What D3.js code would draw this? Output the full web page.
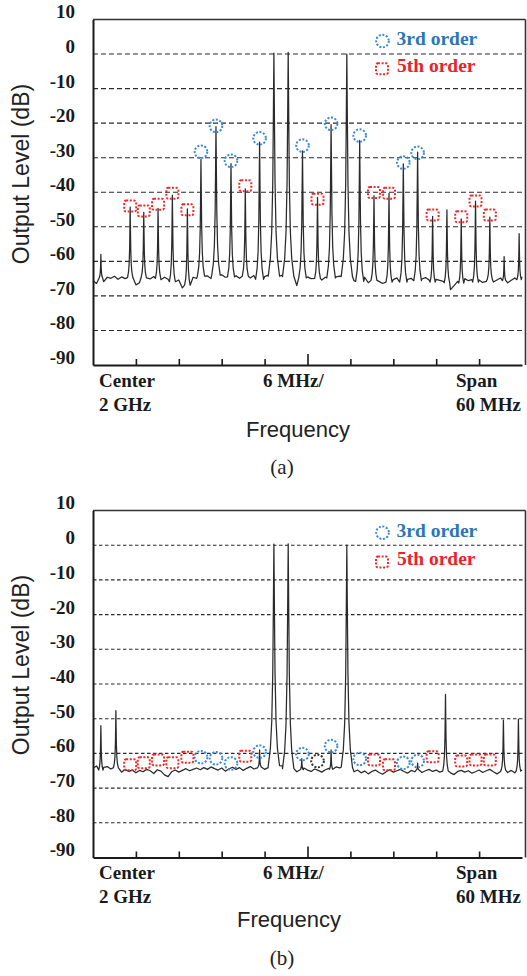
<!DOCTYPE html>
<html><head><meta charset="utf-8">
<script src="https://cdn.jsdelivr.net/npm/d3@7"></script>
<style>body{margin:0;background:#fff}svg{display:block}</style>
</head><body>
<svg id="c" width="527" height="976"></svg>
<script>
// ---------- data ----------
const yTickValues = [10, 0, -10, -20, -30, -40, -50, -60, -70, -80, -90];
const gridValues = [0, -10, -20, -30, -40, -50, -60, -70, -80];
const xTickValues = [-24, -18, -12, -6, 0, 6, 12, 18, 24]; // MHz offset from 2 GHz (6 MHz/div)
const xDomain = [-30, 30];
const traceStartMHz = -30, traceStepMHz = 0.5;
const xLabelLeft = ["Center", "2 GHz"];
const xLabelMid = ["6 MHz/"];
const xLabelRight = ["Span", "60 MHz"];
const legendLabels = ["3rd order", "5th order"];

// (a) measured noise floor (dB), every 0.5 MHz from -30 to +30 MHz
const noiseA = [
  -65.6,-66.4,-64.8,-65.9,-64.6,-64.9,-64.3,-65.2,-64.5,-65.0,
  -64.7,-65.4,-66.8,-66.2,-64.6,-64.8,-65.1,-64.4,-64.9,-65.3,
  -64.6,-65.2,-65.9,-64.8,-65.4,-67.7,-66.9,-65.0,-64.6,-64.9,
  -64.3,-64.8,-64.2,-65.0,-64.0,-64.4,-63.9,-64.6,-64.1,-64.5,
  -64.2,-64.9,-64.0,-64.3,-64.8,-64.1,-64.6,-65.2,-64.4,-64.0,
  -63.8,-64.3,-64.6,-64.0,-63.9,-64.4,-65.3,-67.0,-66.2,-64.8,
  -64.5,-65.0,-64.2,-64.9,-65.4,-64.6,-64.2,-64.8,-64.5,-64.3,
  -64.0,-64.4,-65.2,-65.6,-64.9,-65.8,-64.6,-66.2,-65.1,-65.5,
  -65.8,-66.4,-65.0,-66.0,-65.3,-64.8,-65.5,-66.0,-65.2,-64.9,
  -65.0,-65.6,-65.1,-64.7,-65.4,-66.0,-65.2,-65.5,-65.8,-66.2,
  -68.2,-67.0,-65.8,-66.3,-65.0,-65.6,-65.3,-66.0,-65.4,-66.1,
  -65.8,-65.2,-66.0,-65.4,-64.8,-65.6,-66.2,-65.5,-64.8,-65.3,
  -64.5
];
// (a) spectral lines
const peakFreqA  = [-28.9,-24.8,-22.9,-20.9,-18.9,-16.8,-14.9,-12.8,-10.7,-8.7,-6.7,-4.7,-2.7,-0.7,1.4,3.3,5.5,7.3,9.3,11.4,13.4,15.4,17.5,19.5,21.5,23.5,25.5,27.5,29.6];
const peakLevelA = [-58,-44.3,-45.8,-44.7,-40.8,-44.8,-30.5,-21,-31.7,-39,-25.5,0.3,0.5,-28,-41.5,-20.4,0,-25,-41,-40.3,-31.8,-28.4,-47,-45.1,-47.7,-42.6,-47.2,-58.6,-52];
// (a) intermodulation markers
const markFreqA  = [-24.8,-22.9,-20.9,-18.9,-16.8,-14.9,-12.8,-10.7,-8.7,-6.7,-0.7,1.4,3.3,7.3,9.3,11.4,13.4,15.4,17.5,21.5,23.5,25.5];
const markLevelA = [-44.0,-45.4,-43.5,-40.3,-45.1,-28.3,-20.8,-30.9,-38.1,-24.4,-26.5,-42.0,-20.2,-23.6,-40.1,-40.3,-31.4,-28.6,-46.6,-47.1,-42.5,-46.6];
const markOrderA = [5,5,5,5,5,3,3,3,5,3,3,5,3,3,5,5,3,3,5,5,5,5];

// (b) measured noise floor (dB), every 0.5 MHz from -30 to +30 MHz
const noiseB = [
  -64.3,-63.6,-64.8,-64.0,-63.8,-64.5,-64.1,-64.9,-65.4,-64.6,
  -65.2,-64.8,-65.6,-64.9,-65.3,-64.6,-65.0,-65.8,-64.7,-65.1,
  -66.2,-66.7,-65.3,-64.8,-65.4,-64.9,-64.4,-65.0,-64.6,-64.2,
  -64.7,-64.1,-64.6,-63.9,-64.4,-64.8,-64.2,-65.1,-64.5,-64.0,
  -64.6,-64.1,-64.9,-64.3,-63.8,-64.5,-64.2,-63.9,-64.6,-64.1,
  -63.7,-63.5,-63.9,-63.6,-63.8,-64.4,-64.9,-65.3,-64.7,-64.2,
  -64.8,-65.2,-64.5,-64.9,-65.4,-64.7,-64.3,-64.6,-63.9,-64.2,
  -63.8,-64.0,-64.6,-65.3,-64.8,-65.6,-65.1,-65.9,-65.2,-64.8,
  -65.5,-66.0,-65.3,-64.7,-65.4,-65.0,-64.6,-65.2,-65.7,-64.9,
  -65.3,-64.8,-65.5,-65.0,-64.6,-65.2,-64.8,-65.4,-65.8,-65.1,
  -65.6,-66.1,-65.2,-64.9,-65.4,-65.0,-65.7,-65.3,-64.8,-65.5,
  -65.0,-64.6,-65.3,-65.9,-65.2,-64.8,-65.5,-64.9,-65.6,-65.1,
  -64.8
];
// (b) spectral lines
const peakFreqB  = [-28.9,-26.8,-6.7,-4.7,-2.7,-0.8,3.3,5.5,15.4,19.3,27.4,29.5];
const peakLevelB = [-52,-47.7,-59,0.3,0.4,-61.5,-59,0,-62.8,-43,-50.4,-50.1];
// (b) intermodulation markers
const markFreqB  = [-24.8,-22.9,-20.9,-18.9,-16.8,-14.9,-12.8,-10.7,-8.7,-6.7,-0.7,1.4,3.3,7.3,9.3,11.4,13.4,15.4,17.5,21.5,23.5,25.5];
const markLevelB = [-63.3,-62.7,-61.9,-62.7,-61.1,-61.1,-61.4,-62.9,-60.8,-59.5,-60.2,-62.2,-57.9,-61.6,-61.9,-63.3,-62.7,-62.2,-61.0,-62.2,-61.9,-61.9];
const markOrderB = [5,5,5,5,5,3,3,3,5,3,3,0,3,3,5,5,3,3,5,5,5,5];

// ---------- drawing ----------
const svg = d3.select("#c");
const SERIF = "'Liberation Serif','Times New Roman',serif";
const SANS = "'Liberation Sans',Arial,sans-serif";
const BLUE_M = "#3a8ad6", BLUE_T = "#2e75b6", RED_M = "#ee2b2b", RED_T = "#e8242b";

function buildTrace(noise, pf, pl) {
  const pts = noise.map((v, i) => ({ f: traceStartMHz + i * traceStepMHz, v }));
  const bases = pf.map((f, i) => {
    const idx = Math.max(0, Math.min(noise.length - 1, Math.round((f - traceStartMHz) / traceStepMHz)));
    const fb = noise[idx];
    const H = pl[i] - fb;
    return { f, L: pl[i], fb, H, wb: 0.18 + 0.0095 * H };
  });
  const kept = pts.filter(p => !bases.some(b => Math.abs(p.f - b.f) < b.wb));
  const shape = [[-1,0],[-0.62,0.08],[-0.38,0.2],[-0.2,0.42],[-0.09,0.72],[0,1],[0.09,0.72],[0.2,0.42],[0.38,0.2],[0.62,0.08],[1,0]];
  bases.forEach(b => shape.forEach(([a, h]) => kept.push({ f: b.f + a * b.wb, v: b.fb + h * b.H })));
  kept.sort((a, b) => a.f - b.f);
  return kept;
}

function panel(cfg) {
  const g = svg.append("g");
  const x = d3.scaleLinear().domain(xDomain).range([cfg.left, cfg.right]);
  const y = d3.scaleLinear().domain([-90, 10]).range([cfg.bottom, cfg.top]);

  // gridlines
  g.append("g").selectAll("line").data(gridValues).join("line")
    .attr("x1", cfg.left).attr("x2", cfg.boxRight)
    .attr("y1", d => y(d)).attr("y2", d => y(d))
    .attr("stroke", "#2b2b2b").attr("stroke-width", 1.1)
    .attr("stroke-dasharray", cfg.dash);

  // box top & right
  g.append("line").attr("x1", cfg.left).attr("x2", cfg.boxRight)
    .attr("y1", y(10)).attr("y2", y(10)).attr("stroke", "#333").attr("stroke-width", 1.6);
  g.append("line").attr("x1", cfg.boxRight).attr("x2", cfg.boxRight)
    .attr("y1", y(10)).attr("y2", y(-90)).attr("stroke", "#333").attr("stroke-width", 1.6);

  // trace
  const trace = buildTrace(cfg.noise, cfg.pf, cfg.pl);
  g.append("path").datum(trace)
    .attr("d", d3.line().x(d => x(d.f)).y(d => y(d.v)))
    .attr("fill", "none").attr("stroke", "#2a2a2a").attr("stroke-width", 1.25)
    .attr("stroke-linejoin", "round");

  // y axis
  const ya = g.append("g").attr("transform", `translate(${cfg.left},0)`)
    .call(d3.axisLeft(y).tickValues(yTickValues).tickSize(0).tickPadding(18).tickFormat(d => String(d)));
  ya.select(".domain").attr("stroke", "#1a1a1a").attr("stroke-width", 2);
  ya.selectAll("text").attr("font-family", SERIF).attr("font-weight", "bold")
    .attr("font-size", 19).attr("fill", "#1a1a1a").attr("dy", "-0.08em");

  // x axis
  const xa = g.append("g").attr("transform", `translate(0,${cfg.bottom})`)
    .call(d3.axisBottom(x).tickValues(xTickValues).tickSize(-6).tickSizeOuter(0).tickFormat(""));
  xa.select(".domain").attr("stroke", "#1a1a1a").attr("stroke-width", 2);
  xa.selectAll(".tick line").attr("stroke", "#1a1a1a").attr("stroke-width", 1.6)
    .attr("y2", d => d === 0 ? -11 : -6);

  // x labels
  const lab = (t, xx, yy) => g.append("text").text(t).attr("x", xx).attr("y", yy)
    .attr("font-family", SERIF).attr("font-weight", "bold").attr("font-size", 19).attr("fill", "#1a1a1a");
  lab(xLabelLeft[0], 99, cfg.bottom + cfg.l1);
  lab(xLabelLeft[1], 99, cfg.bottom + cfg.l2);
  lab(xLabelMid[0], 263, cfg.bottom + cfg.l1);
  lab(xLabelRight[0], 456, cfg.bottom + cfg.l1);
  lab(xLabelRight[1], 456, cfg.bottom + cfg.l2);

  g.append("text").text("Frequency").attr("x", cfg.freqX).attr("y", cfg.bottom + cfg.lf)
    .attr("text-anchor", "middle").attr("font-family", SANS).attr("font-size", 22).attr("fill", "#222");
  g.append("text").text(cfg.tag).attr("x", 282).attr("y", cfg.bottom + cfg.lt)
    .attr("text-anchor", "middle").attr("font-family", SERIF).attr("font-size", 21).attr("fill", "#222");
  g.append("text").text("Output Level (dB)")
    .attr("transform", `translate(28.5,${cfg.titleY}) rotate(-90)`)
    .attr("text-anchor", "middle").attr("font-family", SANS).attr("font-size", 23).attr("fill", "#222");

  // markers
  const marks = cfg.mf.map((f, i) => ({ f, v: cfg.ml[i], o: cfg.mo[i] }));
  const dot = "2,1.6";
  g.append("g").selectAll("circle").data(marks.filter(d => d.o !== 5)).join("circle")
    .attr("cx", d => x(d.f)).attr("cy", d => y(d.v)).attr("r", 6.3)
    .attr("fill", "none").attr("stroke", d => d.o === 3 ? BLUE_M : "#333")
    .attr("stroke-width", 2).attr("stroke-dasharray", dot);
  g.append("g").selectAll("rect").data(marks.filter(d => d.o === 5)).join("rect")
    .attr("x", d => x(d.f) - 6).attr("y", d => y(d.v) - 5.5).attr("width", 12).attr("height", 11)
    .attr("rx", 2).attr("fill", "none").attr("stroke", RED_M)
    .attr("stroke-width", 2).attr("stroke-dasharray", dot);

  // legend
  g.append("circle").attr("cx", 382.5).attr("cy", cfg.lg1 - 4).attr("r", 6.3)
    .attr("fill", "none").attr("stroke", BLUE_M).attr("stroke-width", 2).attr("stroke-dasharray", dot);
  g.append("rect").attr("x", 376).attr("y", cfg.lg2 - 8.5).attr("width", 12).attr("height", 11).attr("rx", 2)
    .attr("fill", "none").attr("stroke", RED_M).attr("stroke-width", 2).attr("stroke-dasharray", dot);
  g.append("text").text(legendLabels[0]).attr("x", 396.5).attr("y", cfg.lg1)
    .attr("font-family", SERIF).attr("font-weight", "bold").attr("font-size", 19.5).attr("fill", BLUE_T);
  g.append("text").text(legendLabels[1]).attr("x", 397).attr("y", cfg.lg2)
    .attr("font-family", SERIF).attr("font-weight", "bold").attr("font-size", 19.5).attr("fill", RED_T);
}

panel({ top: 19.5, bottom: 365, left: 93, right: 522, boxRight: 525.5, dash: "5,3",
  noise: noiseA, pf: peakFreqA, pl: peakLevelA, mf: markFreqA, ml: markLevelA, mo: markOrderA,
  l1: 22, l2: 46, lf: 71.7, lt: 109, freqX: 298, tag: "(a)", titleY: 174, lg1: 45, lg2: 71.7 });
panel({ top: 510.5, bottom: 857.5, left: 93, right: 522, boxRight: 525.5, dash: "3.5,2.5",
  noise: noiseB, pf: peakFreqB, pl: peakLevelB, mf: markFreqB, ml: markLevelB, mo: markOrderB,
  l1: 21, l2: 45, lf: 69.2, lt: 107.5, freqX: 289, tag: "(b)", titleY: 665, lg1: 536.7, lg2: 565 });
</script>
</body></html>
